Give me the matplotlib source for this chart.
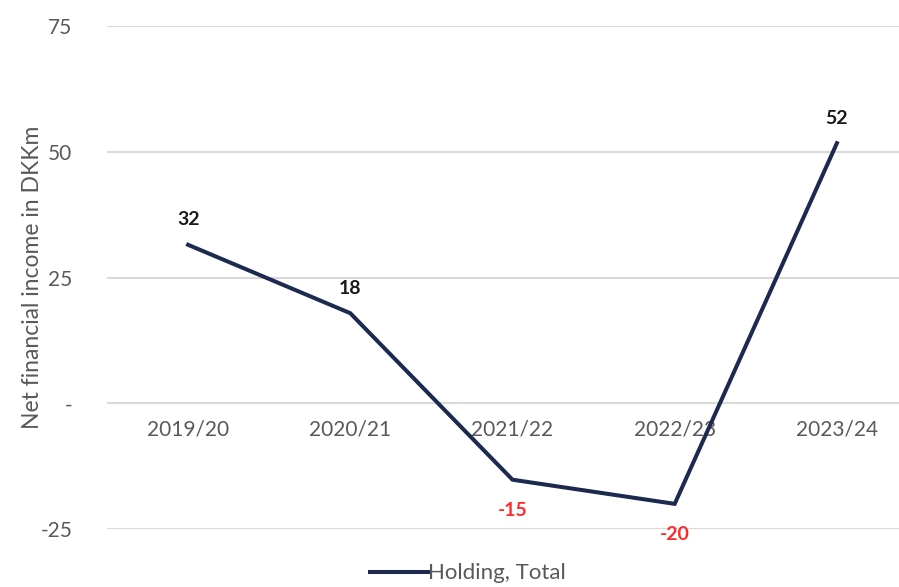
import matplotlib.pyplot as plt
import numpy as np

plt.rcParams['font.family'] = ['Lato', 'DejaVu Sans']

# Data
years = ['2019/20', '2020/21', '2021/22', '2022/23', '2023/24']
net_income = [31.5, 17.9, -15.2, -20.0, 51.7]
yticks = [-25, 0, 25, 50, 75]
ytick_labels = ['-25', '-', '25', '50', '75']

navy = '#1b2a4e'
grey = '#595959'

fig = plt.figure(figsize=(8.99, 5.87), dpi=100)
ax = fig.add_axes([107 / 899, 1 - 529 / 587, 811 / 899, 503 / 587])

x = np.arange(len(years))
ax.plot(x, net_income, color=navy, linewidth=2.9, solid_joinstyle='miter',
        label='Holding, Total', zorder=3)

# value labels
for xi, v in zip(x, net_income):
    if v >= 0:
        ax.annotate(f'{v:.0f}', (xi, v), xytext=(0, 12), textcoords='offset points',
                    ha='center', va='bottom', fontsize=14, fontweight='bold',
                    color='#1a1a1a')
    else:
        ax.annotate(f'{v:.0f}', (xi, v), xytext=(0, -16), textcoords='offset points',
                    ha='center', va='top', fontsize=14, fontweight='bold',
                    color='#ff2a2a')

ax.set_xlim(-0.5, len(years) - 0.5)
ax.set_ylim(-25, 75)
ax.set_yticks(yticks)
ax.set_yticklabels(ytick_labels, fontsize=15, color=grey)
ax.tick_params(axis='y', length=0, pad=25)
ax.grid(axis='y', color='#d9d9d9', linewidth=1.5)
ax.set_axisbelow(True)

# category labels sit just below the zero line
ax.set_xticks([])
for xi, lab in zip(x, years):
    ax.text(xi, -3.2, lab, ha='center', va='top', fontsize=15, color=grey, zorder=2)

for s in ax.spines.values():
    s.set_visible(False)

ax.set_ylabel('Net financial income in DKKm', fontsize=16.5, color=grey, labelpad=-2)

fig.legend(loc='lower center', bbox_to_anchor=(468 / 899, -0.028), frameon=False,
           fontsize=16, labelcolor=grey, handlelength=2.6, handletextpad=0.0)

fig.savefig('out.png', dpi=100)
